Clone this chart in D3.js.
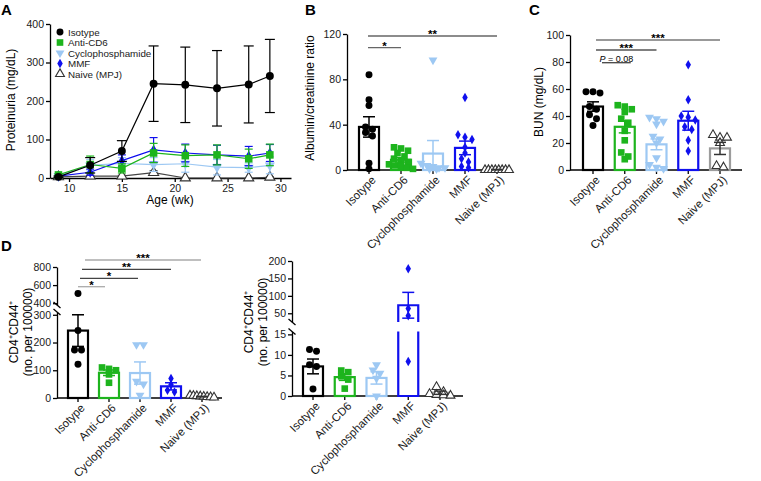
<!DOCTYPE html>
<html>
<head>
<meta charset="utf-8">
<script src="https://cdn.jsdelivr.net/npm/d3@7"></script>
<style>
body { margin: 0; background: #fff; }
svg { display: block; font-family: "Liberation Sans", Arial, sans-serif; }
</style>
</head>
<body>
<svg id="fig" width="761" height="481"></svg>
<script>
// ---- data ----
const groups = ["Isotype", "Anti-CD6", "Cyclophosphamide", "MMF", "Naive (MPJ)"];

// A: proteinuria over time
const weeks = [9, 12, 15, 18, 21, 24, 27, 29];
const protIsotype = [3, 33, 70, 245, 242, 233, 243, 265];
const protIsotypeSem = [2, 20, 27, 98, 98, 98, 100, 95];
const protAntiCD6 = [8, 35, 25, 65, 58, 60, 50, 60];
const protAntiCD6Sem = [3, 22, 12, 25, 28, 26, 25, 28];
const protCyclo = [5, 33, 38, 35, 37, 28, 27, 33];
const protCycloSem = [2, 15, 15, 18, 22, 20, 12, 22];
const protMMF = [5, 15, 45, 73, 65, 60, 57, 65];
const protMMFSem = [2, 8, 15, 32, 23, 25, 25, 22];
const protNaive = [3, 5, 5, 14, 0, 0, 0, 2];
const protNaiveSem = [1, 2, 2, 5, 0, 0, 0, 1];

// B: albumin/creatinine ratio
const albIsotype = [84, 62, 57, 38, 36, 33, 30, 6, 1];
const albAntiCD6 = [20, 19, 17, 15, 12, 10, 8, 7, 5, 4, 3, 2, 1];
const albCyclo = [97, 6, 4, 3, 2, 2, 1, 1];
const albMMF = [64, 31, 29, 27, 20, 15, 10, 7, 3, 2];
const albNaive = [0, 0, 0, 0, 0, 0, 0, 0];
const albMean = [38, 9, 14.5, 19.5, 0.3];
const albSem = [9, 2, 11.5, 6, 0.2];

// C: BUN
const bunIsotype = [58, 57, 58, 47, 45, 41, 38, 33];
const bunAntiCD6 = [48, 47, 45, 43, 38, 35, 29, 22, 13, 10, 8];
const bunCyclo = [39, 38, 36, 34, 25, 23, 20, 9, 4, 2, 1];
const bunMMF = [78, 52, 40, 39, 37, 32, 30, 22, 14];
const bunNaive = [26, 24, 24, 20, 3, 2];
const bunMean = [47, 32, 19, 36.5, 16];
const bunSem = [3.5, 4.5, 4, 7, 4.5];

// D: CD4+CD44+ cells, two tissues
const cdLeftIsotype = [508, 243, 173, 173, 122];
const cdLeftAntiCD6 = [110, 105, 100, 85, 55];
const cdLeftCyclo = [192, 192, 60, 50, 10];
const cdLeftMMF = [70, 48, 28, 22];
const cdLeftNaive = [9, 8, 7, 6, 5, 4, 3, 2];
const cdLeftMean = [243, 91, 90, 42, 5];
const cdLeftSem = [57, 10, 40, 13, 1];

const cdRightIsotype = [11.3, 10.9, 7.6, 7.2, 1.7];
const cdRightAntiCD6 = [6.2, 5.8, 4.8, 4, 1.8];
const cdRightCyclo = [7.6, 6.3, 5.5, 4.3, 0];
const cdRightMMF = [178, 64, 43, 8.4];
const cdRightNaive = [2.2, 1, 0.5, 0.3, 0.2, 0.1];
const cdRightMean = [7.2, 4.6, 4.4, 73, 0.8];
const cdRightSem = [1.8, 0.8, 1.5, 37, 0.4];

// significance annotations: [from, to, label]
const sigB = [["Isotype", "Anti-CD6", "*"], ["Isotype", "Naive (MPJ)", "**"]];
const sigC = [["Isotype", "Anti-CD6", "P = 0.08"], ["Isotype", "Cyclophosphamide", "***"], ["Isotype", "Naive (MPJ)", "***"]];
const sigD = [["Isotype", "Anti-CD6", "*"], ["Isotype", "Cyclophosphamide", "*"], ["Isotype", "MMF", "**"], ["Isotype", "Naive (MPJ)", "***"]];

// ---- styles ----
const stroke = { "Isotype": "#000", "Anti-CD6": "#1db41d", "Cyclophosphamide": "#9dc8f3", "MMF": "#1010ee", "Naive (MPJ)": "#9c9c9c" };
const fill = { "Isotype": "#000", "Anti-CD6": "#1db41d", "Cyclophosphamide": "#9dc8f3", "MMF": "#1010ee", "Naive (MPJ)": "#fff" };
const errColor = { "Isotype": "#000", "Anti-CD6": "#1db41d", "Cyclophosphamide": "#9dc8f3", "MMF": "#1010ee", "Naive (MPJ)": "#333" };
const symType = { "Isotype": d3.symbolCircle, "Anti-CD6": d3.symbolSquare, "Cyclophosphamide": d3.symbolTriangle, "MMF": d3.symbolDiamond, "Naive (MPJ)": d3.symbolTriangle };
const symSize = { "Isotype": 38, "Anti-CD6": 44, "Cyclophosphamide": 34, "MMF": 26, "Naive (MPJ)": 34 };
const symRot = { "Cyclophosphamide": 180 };

const svg = d3.select("#fig");
svg.append("rect").attr("width", 761).attr("height", 481).attr("fill", "#fff");

function styleAxis(sel) {
    sel.select(".domain").attr("stroke", "#000").attr("stroke-width", 1.3);
    sel.selectAll(".tick line").attr("stroke", "#000").attr("stroke-width", 1.3);
    sel.selectAll(".tick text").attr("font-size", 10.5).attr("fill", "#1a1a1a").attr("font-family", "Liberation Sans, Arial, sans-serif");
}

function marker(g, grp, x, y, scale = 1) {
    const r = symRot[grp] || 0;
    g.append("path")
        .attr("d", d3.symbol().type(symType[grp]).size(symSize[grp] * scale)())
        .attr("transform", `translate(${x},${y}) rotate(${r})`)
        .attr("fill", fill[grp])
        .attr("stroke", grp === "Naive (MPJ)" ? "#333" : "none")
        .attr("stroke-width", 1.1);
}

function letter(t, x, y) {
    svg.append("text").attr("x", x).attr("y", y).text(t)
        .attr("font-size", 15).attr("font-weight", "bold");
}

// ---- Panel A ----
(function () {
    const g = svg.append("g");
    const x = d3.scaleLinear().domain([8.2, 31]).range([50, 291]);
    const y = d3.scaleLinear().domain([0, 400]).range([178, 24]);

    g.append("g").attr("transform", "translate(0,178)")
        .call(d3.axisBottom(x).tickValues([10, 15, 20, 25, 30]).tickSize(4).tickSizeOuter(0))
        .call(styleAxis);
    g.append("g").attr("transform", "translate(50,0)")
        .call(d3.axisLeft(y).tickValues([0, 100, 200, 300, 400]).tickSize(4).tickSizeOuter(0).tickPadding(2))
        .call(styleAxis);

    const series = [
        ["Naive (MPJ)", protNaive, protNaiveSem, "#444"],
        ["Cyclophosphamide", protCyclo, protCycloSem, stroke["Cyclophosphamide"]],
        ["MMF", protMMF, protMMFSem, stroke["MMF"]],
        ["Anti-CD6", protAntiCD6, protAntiCD6Sem, stroke["Anti-CD6"]],
        ["Isotype", protIsotype, protIsotypeSem, "#000"]
    ];
    series.forEach(([grp, vals, sems, col]) => {
        const cap = grp === "Isotype" ? 5 : 4;
        const sg = g.append("g");
        vals.forEach((v, i) => {
            if (sems[i] <= 0) return;
            const cx = x(weeks[i]);
            const lo = Math.max(0, v - sems[i]), hi = v + sems[i];
            sg.append("line").attr("x1", cx).attr("x2", cx).attr("y1", y(lo)).attr("y2", y(hi))
                .attr("stroke", col).attr("stroke-width", 1.2);
            [lo, hi].forEach(e => sg.append("line").attr("x1", cx - cap).attr("x2", cx + cap)
                .attr("y1", y(e)).attr("y2", y(e)).attr("stroke", col).attr("stroke-width", 1.2));
        });
        sg.append("path")
            .datum(vals)
            .attr("d", d3.line().x((d, i) => x(weeks[i])).y(d => y(d)))
            .attr("fill", "none").attr("stroke", col).attr("stroke-width", 1.2);
        vals.forEach((v, i) => marker(sg, grp, x(weeks[i]), y(v), 1.3));
    });

    // legend
    const lg = g.append("g");
    groups.forEach((grp, i) => {
        const ly = 32 + i * 10.5;
        marker(lg, grp, 60, ly, 1.0);
        lg.append("text").attr("x", 68).attr("y", ly + 3.5).text(grp)
            .attr("font-size", 9.8).attr("fill", "#1a1a1a");
    });

    g.append("text").attr("transform", "translate(15,100) rotate(-90)")
        .attr("text-anchor", "middle").attr("font-size", 12).text("Proteinuria (mg/dL)");
    g.append("text").attr("x", 170).attr("y", 204)
        .attr("text-anchor", "middle").attr("font-size", 12).text("Age (wk)");
    letter("A", 1, 15);
})();

// ---- bar/scatter panels ----
// Prism-like scatter: points of similar height share a row, spread evenly
// and squeezed when the row gets wider than maxW
function scatterRows(vals, yf, cx, d, maxW) {
    const pts = vals.map(v => ({ v, y: yf(v) })).sort((a, b) => a.y - b.y);
    const rows = [];
    pts.forEach(p => {
        const row = rows[rows.length - 1];
        if (row && p.y - row[0].y < d * 0.75) row.push(p);
        else rows.push([p]);
    });
    rows.forEach(row => {
        const n = row.length;
        const step = n > 1 ? Math.min(d, maxW / (n - 1)) : 0;
        row.forEach((p, i) => { p.x = cx + (i - (n - 1) / 2) * step; });
    });
    return pts;
}

function barPanel(cfg) {
    const g = svg.append("g");
    const x = d3.scalePoint().domain(groups).range(cfg.centers);
    const segs = cfg.segments.map(s => ({ scale: d3.scaleLinear().domain(s.domain).range(s.range), ticks: s.ticks }));
    const y = v => {
        for (const s of segs) {
            const [d0, d1] = s.scale.domain();
            if (v >= d0 && v <= d1) return s.scale(v);
        }
        const s0 = segs[0].scale;
        if (v > s0.domain()[1] && segs.length > 1 && v < segs[1].scale.domain()[0]) return s0.range()[1];
        const last = segs[segs.length - 1].scale;
        return v > last.domain()[1] ? last.range()[1] : s0.range()[0];
    };
    const base = y(0);

    segs.forEach(s => {
        g.append("g").attr("transform", `translate(${cfg.axisX},0)`)
            .call(d3.axisLeft(s.scale).tickValues(s.ticks).tickSize(4).tickSizeOuter(0).tickPadding(2))
            .call(styleAxis);
    });
    if (segs.length > 1) {
        const ends = [segs[0].scale.range()[1], segs[1].scale.range()[0]];
        ends.forEach(e => g.append("line")
            .attr("x1", cfg.axisX - 3.5).attr("x2", cfg.axisX + 3.5)
            .attr("y1", e - 3).attr("y2", e + 3)
            .attr("stroke", "#000").attr("stroke-width", 1.3));
    }

    // x axis
    g.append("line").attr("x1", cfg.axisX).attr("x2", cfg.axisEnd).attr("y1", base).attr("y2", base)
        .attr("stroke", "#000").attr("stroke-width", 1.3);
    groups.forEach(grp => {
        const cx = x(grp);
        g.append("line").attr("x1", cx).attr("x2", cx).attr("y1", base).attr("y2", base + 4)
            .attr("stroke", "#000").attr("stroke-width", 1.3);
        g.append("text").attr("transform", `translate(${cx + 5},${base + 8}) rotate(-45)`)
            .attr("text-anchor", "end").attr("dy", "0.32em").attr("font-size", 11.5)
            .attr("fill", "#1a1a1a").text(grp);
    });

    const bw = 10;
    groups.forEach((grp, i) => {
        const cx = x(grp), m = cfg.means[i], s = cfg.sems[i];
        const col = stroke[grp];
        const bg = g.append("g");
        const lowTop = segs[0].scale.domain()[1];
        if (segs.length > 1 && m > lowTop) {
            const t0 = segs[0].scale.range()[1], b1 = segs[1].scale.range()[0];
            bg.append("path").attr("d", `M${cx - bw},${t0}V${base}H${cx + bw}V${t0}`)
                .attr("fill", "#fff").attr("stroke", col).attr("stroke-width", 2.2);
            bg.append("path").attr("d", `M${cx - bw},${b1}V${y(m)}H${cx + bw}V${b1}`)
                .attr("fill", "#fff").attr("stroke", col).attr("stroke-width", 2.2);
        } else {
            bg.append("rect").attr("x", cx - bw).attr("y", y(m)).attr("width", 2 * bw)
                .attr("height", Math.max(0.1, base - y(m)))
                .attr("fill", "#fff").attr("stroke", col).attr("stroke-width", 2.2);
        }
        // points
        const pts = scatterRows(cfg.points[i], y, cx, 7, 24);
        pts.forEach(p => marker(bg, grp, p.x, p.y, 1));
        // error bar (SEM)
        const ec = errColor[grp];
        const lo = Math.max(0, m - s), hi = m + s;
        bg.append("line").attr("x1", cx).attr("x2", cx).attr("y1", y(lo)).attr("y2", y(hi))
            .attr("stroke", ec).attr("stroke-width", 1.5);
        [lo, hi].forEach(e => bg.append("line").attr("x1", cx - 6).attr("x2", cx + 6)
            .attr("y1", y(e)).attr("y2", y(e)).attr("stroke", ec).attr("stroke-width", 1.5));
    });

    // significance
    cfg.sig.forEach(([a, b, label], i) => {
        const x1 = x(a) + cfg.sigOff[i][0], x2 = x(b) + cfg.sigOff[i][1], ly = cfg.sigY[i];
        g.append("line").attr("x1", x1).attr("x2", x2).attr("y1", ly).attr("y2", ly)
            .attr("stroke", cfg.sigCol[i]).attr("stroke-width", 1.3);
        const t = g.append("text").attr("x", (x1 + x2) / 2).attr("text-anchor", "middle");
        if (label.startsWith("P")) {
            t.attr("y", ly - 0.8).attr("font-size", 9);
            t.append("tspan").attr("font-style", "italic").text("P");
            t.append("tspan").text(label.slice(1));
        } else {
            t.attr("y", ly + 2).attr("font-size", 11.5).attr("font-weight", "bold").text(label);
        }
    });

    const tt = g.append("text").attr("transform", `translate(${cfg.titleX},${cfg.titleY}) rotate(-90)`)
        .attr("text-anchor", "middle").attr("font-size", 12);
    cfg.title.forEach((line, i) => tt.append("tspan").attr("x", 0).attr("dy", i ? "1.15em" : 0).text(line));
}

barPanel({
    axisX: 347, axisEnd: 510, centers: [369, 497],
    segments: [{ domain: [0, 120], range: [170, 34], ticks: [0, 40, 80, 120] }],
    means: albMean, sems: albSem,
    points: [albIsotype, albAntiCD6, albCyclo, albMMF, albNaive],
    sig: sigB, sigY: [47.7, 36], sigOff: [[-1, 0], [-1, 0]], sigCol: ["#666", "#666"],
    title: ["Albumin/creatinine ratio"], titleX: 314, titleY: 98
});
letter("B", 305, 15);

barPanel({
    axisX: 570, axisEnd: 742, centers: [593, 720],
    segments: [{ domain: [0, 100], range: [170, 35], ticks: [0, 20, 40, 60, 80, 100] }],
    means: bunMean, sems: bunSem,
    points: [bunIsotype, bunAntiCD6, bunCyclo, bunMMF, bunNaive],
    sig: sigC, sigY: [62.7, 50, 40], sigOff: [[9, 6], [3, 0], [3, 0]], sigCol: ["#444", "#555", "#777"],
    title: ["BUN (mg/dL)"], titleX: 543, titleY: 102
});
letter("C", 529, 15);

barPanel({
    axisX: 57, axisEnd: 222, centers: [78, 202],
    segments: [
        { domain: [0, 310], range: [398, 312], ticks: [0, 100, 200, 300] },
        { domain: [380, 800], range: [305, 267], ticks: [400, 600, 800] }
    ],
    means: cdLeftMean, sems: cdLeftSem,
    points: [cdLeftIsotype, cdLeftAntiCD6, cdLeftCyclo, cdLeftMMF, cdLeftNaive],
    sig: sigD, sigY: [286.7, 278.3, 269.3, 260], sigOff: [[0, -4], [2, -2], [4, 0], [7, -1]],
    sigCol: ["#aaa", "#444", "#444", "#aaa"],
    title: ["CD4\u207ACD44\u207A", "(no. per 100000)"], titleX: 18, titleY: 332
});
letter("D", 1, 251);

barPanel({
    axisX: 292, axisEnd: 463, centers: [313, 440],
    segments: [
        { domain: [0, 15.7], range: [396, 331.5], ticks: [0, 5, 10, 15] },
        { domain: [25, 200], range: [322, 261], ticks: [50, 100, 150, 200] }
    ],
    means: cdRightMean, sems: cdRightSem,
    points: [cdRightIsotype, cdRightAntiCD6, cdRightCyclo, cdRightMMF, cdRightNaive],
    sig: [], sigY: [], sigOff: [], sigCol: [],
    title: ["CD4\u207ACD44\u207A", "(no. per 100000)"], titleX: 253, titleY: 322
});
</script>
</body>
</html>
